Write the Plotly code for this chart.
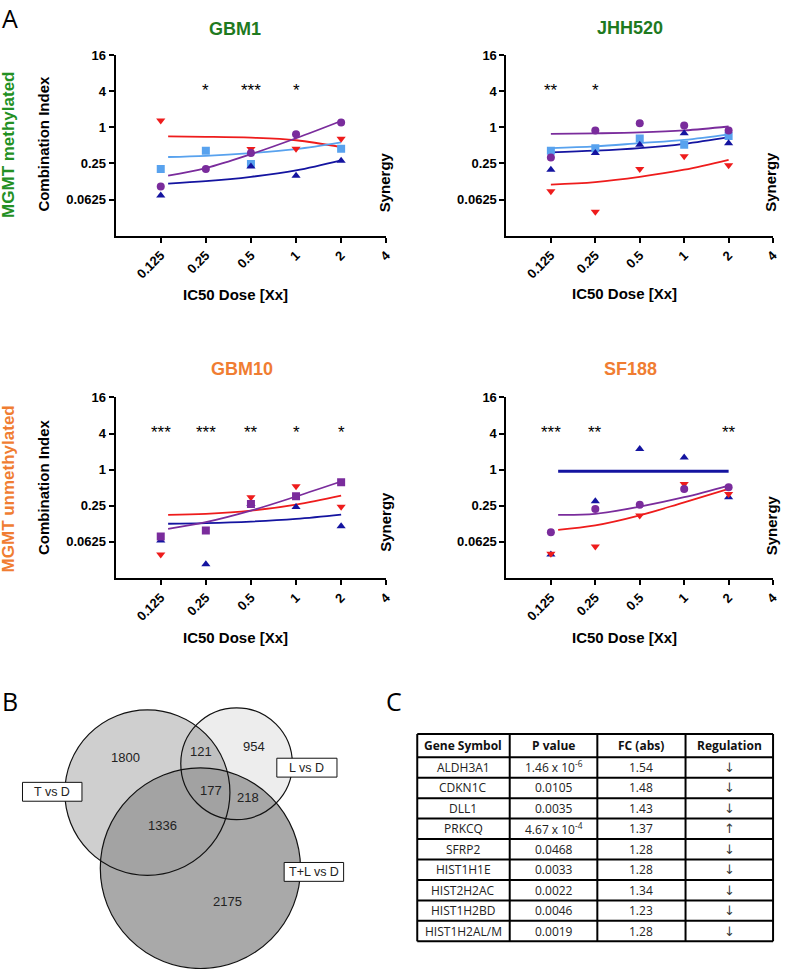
import math
import plotly.graph_objects as go

W, H = 786, 969
SANS = "Liberation Sans, Arial, sans-serif"
TABLE_FONT = "Open Sans, sans-serif"

# ---------------- Data ----------------
DOSES = [0.125, 0.25, 0.5, 1, 2]
FIT_X = [0.14, 0.25, 0.5, 1, 2]
FIT_X_JHH = [0.125, 0.25, 0.5, 1, 2]
X_TICKS = [0.125, 0.25, 0.5, 1, 2, 4]
X_TICKTEXT = ["0.125", "0.25", "0.5", "1", "2", "4"]
Y_TICKS = [0.0625, 0.25, 1, 4, 16]
Y_TICKTEXT = ["0.0625", "0.25", "1", "4", "16"]

# GBM1
gbm1_red = [1.29, None, 0.432, 0.438, 0.642]
gbm1_lightblue = [0.202, 0.406, 0.243, None, 0.438]
gbm1_purple = [0.103, 0.202, 0.371, 0.763, 1.197]
gbm1_navy = [0.0728, None, 0.222, 0.156, 0.277]
gbm1_red_fit = [0.702, 0.693, 0.669, 0.607, 0.467]
gbm1_lightblue_fit = [0.319, 0.334, 0.371, 0.432, 0.559]
gbm1_purple_fit = [0.156, 0.209, 0.356, 0.655, 1.27]
gbm1_navy_fit = [0.115, 0.126, 0.149, 0.191, 0.281]
gbm1_sig = ["", "*", "***", "*", ""]

# JHH520
jhh_purple = [0.314, 0.883, 1.165, 1.064, 0.883]
jhh_lightblue = [0.406, 0.448, 0.651, 0.511, 0.717]
jhh_navy = [0.196, 0.371, 0.511, 0.795, 0.543]
jhh_red = [0.086, 0.039, 0.202, 0.328, 0.232]
jhh_purple_fit = [0.774, 0.79, 0.818, 0.883, 1.028]
jhh_lightblue_fit = [0.448, 0.48, 0.543, 0.616, 0.763]
jhh_navy_fit = [0.382, 0.406, 0.448, 0.528, 0.683]
jhh_red_fit = [0.111, 0.122, 0.149, 0.196, 0.287]
jhh_sig = ["**", "*", "", "", ""]

# GBM10
gbm10_purple = [0.0766, 0.0968, 0.268, 0.361, 0.616]
gbm10_red = [0.0385, None, 0.346, 0.528, 0.241]
gbm10_navy = [0.0656, 0.0263, 0.268, 0.237, 0.114]
gbm10_red_fit = [0.176, 0.183, 0.207, 0.261, 0.369]
gbm10_purple_fit = [0.103, 0.133, 0.207, 0.356, 0.633]
gbm10_navy_fit = [0.125, 0.128, 0.136, 0.151, 0.178]
gbm10_sig = ["***", "***", "**", "*", "*"]

# SF188
sf_navy = [0.0385, 0.297, 2.20, 1.60, 0.346]
sf_purple = [0.0902, 0.221, 0.259, 0.476, 0.507]
sf_red = [0.0396, 0.0522, 0.172, 0.578, 0.392]
sf_navy_fit = [0.94, 0.94, 0.94, 0.94, 0.94]
sf_purple_fit = [0.176, 0.183, 0.241, 0.346, 0.543]
sf_red_fit = [0.0988, 0.117, 0.172, 0.285, 0.476]
sf_sig = ["***", "**", "", "", "**"]

# Venn (B)
venn_sets = ["T vs D", "L vs D", "T+L vs D"]
venn_region_labels = ["T only", "L only", "T+L only", "T&L", "T&T+L", "L&T+L", "all"]
venn_region_counts = [1800, 954, 2175, 121, 1336, 218, 177]

# Table (C)
tbl_header = ["Gene Symbol", "P value", "FC (abs)", "Regulation"]
tbl_genes = ["ALDH3A1", "CDKN1C", "DLL1", "PRKCQ", "SFRP2", "HIST1H1E",
             "HIST2H2AC", "HIST1H2BD", "HIST1H2AL/M"]
tbl_pvalues = ["1.46 x 10<sup>-6</sup>", "0.0105", "0.0035", "4.67 x 10<sup>-4</sup>",
               "0.0468", "0.0033", "0.0022", "0.0046", "0.0019"]
tbl_fc = ["1.54", "1.48", "1.43", "1.37", "1.28", "1.28", "1.34", "1.23", "1.28"]
tbl_reg = ["↓", "↓", "↓", "↑", "↓", "↓", "↓", "↓", "↓"]

# ---------------- Styles / layout ----------------
RED = "#ee1c1c"
LBLUE = "#58a2ee"
PURPLE = "#7a2c9c"
NAVY = "#1414a0"
GREEN = "#1f7a1f"
GREEN2 = "#239023"
ORANGE = "#f07d32"

def px(x):
    return x / W

def py(y):
    return 1 - y / H

panels = [
    dict(title="GBM1", tcolor=GREEN, xd=(116.7, 389.7), yd=(48.3, 230.3),
         title_pos=(237, 22.5), xt_pos=(237.5, 290), yt_pos=(43, 138), syn_pos=(388, 177),
         sig=gbm1_sig, fitx=FIT_X,
         series=[(gbm1_red_fit, gbm1_red, RED, "triangle-down"),
                 (gbm1_lightblue_fit, gbm1_lightblue, LBLUE, "square"),
                 (gbm1_purple_fit, gbm1_purple, PURPLE, "circle"),
                 (gbm1_navy_fit, gbm1_navy, NAVY, "triangle-up")]),
    dict(title="JHH520", tcolor=GREEN, xd=(511, 780), yd=(48.3, 230.3),
         title_pos=(636, 21), xt_pos=(630, 289), yt_pos=None, syn_pos=(778, 176),
         sig=jhh_sig, fitx=FIT_X_JHH,
         series=[(jhh_red_fit, jhh_red, RED, "triangle-down"),
                 (jhh_lightblue_fit, jhh_lightblue, LBLUE, "square"),
                 (jhh_navy_fit, jhh_navy, NAVY, "triangle-up"),
                 (jhh_purple_fit, jhh_purple, PURPLE, "circle")]),
    dict(title="GBM10", tcolor=ORANGE, xd=(116.7, 389.7), yd=(393.3, 575),
         title_pos=(244, 365), xt_pos=(237.5, 635), yt_pos=(44, 484), syn_pos=(389, 519),
         sig=gbm10_sig, fitx=FIT_X,
         series=[(gbm10_red_fit, gbm10_red, RED, "triangle-down"),
                 (gbm10_navy_fit, gbm10_navy, NAVY, "triangle-up"),
                 (gbm10_purple_fit, gbm10_purple, PURPLE, "square")]),
    dict(title="SF188", tcolor=ORANGE, xd=(511, 780), yd=(393.3, 575),
         title_pos=(636, 365), xt_pos=(630, 635), yt_pos=None, syn_pos=(778, 522),
         sig=sf_sig, fitx=FIT_X,
         series=[(sf_navy_fit, sf_navy, NAVY, "triangle-up"),
                 (sf_red_fit, sf_red, RED, "triangle-down"),
                 (sf_purple_fit, sf_purple, PURPLE, "circle")]),
]

fig = go.Figure()
annotations = []
shapes = []
layout_axes = {}

def ann(text, x, y, size, color="black", bold=True, angle=0, family=SANS, xanchor="center"):
    return dict(text=text, x=px(x), y=py(y), xref="paper", yref="paper", showarrow=False,
                xanchor=xanchor, yanchor="middle", textangle=angle,
                font=dict(size=size, color=color, family=family,
                          weight="bold" if bold else "normal"))

for i, p in enumerate(panels, start=1):
    xa = "x" if i == 1 else f"x{i}"
    ya = "y" if i == 1 else f"y{i}"
    xkey = "xaxis" if i == 1 else f"xaxis{i}"
    ykey = "yaxis" if i == 1 else f"yaxis{i}"
    layout_axes[xkey] = dict(
        domain=[px(p["xd"][0]), px(p["xd"][1])], anchor=ya, type="log",
        range=[math.log10(0.0625), math.log10(4)],
        tickvals=X_TICKS, ticktext=X_TICKTEXT, tickangle=-45,
        ticks="outside", ticklen=5, tickwidth=2, tickcolor="black",
        showline=True, linewidth=2, linecolor="black", showgrid=False, zeroline=False,
        tickfont=dict(family=SANS, size=13, color="black", weight="bold"))
    layout_axes[ykey] = dict(
        domain=[py(p["yd"][1]), py(p["yd"][0])], anchor=xa, type="log",
        range=[math.log10(0.015625), math.log10(16)],
        tickvals=Y_TICKS, ticktext=Y_TICKTEXT,
        ticks="outside", ticklen=5, tickwidth=2, tickcolor="black",
        showline=True, linewidth=2, linecolor="black", showgrid=False, zeroline=False,
        tickfont=dict(family=SANS, size=13, color="black", weight="bold"))
    # reference line at CI = 1
    shapes.append(dict(type="line", xref=f"{xa} domain", yref=ya, x0=0, x1=1, y0=0, y1=0,
                       line=dict(color="black", width=2), layer="below"))
    # fits
    for fit, pts, color, sym in p["series"]:
        fig.add_trace(go.Scatter(x=p["fitx"], y=fit, mode="lines", xaxis=xa, yaxis=ya,
                                 line=dict(color=color, width=3 if fit is sf_navy_fit else 1.8,
                                           shape="spline"),
                                 showlegend=False, hoverinfo="skip"))
    for fit, pts, color, sym in p["series"]:
        fig.add_trace(go.Scatter(x=DOSES, y=pts, mode="markers", xaxis=xa, yaxis=ya,
                                 marker=dict(color=color, symbol=sym, size=8, line=dict(width=0)),
                                 showlegend=False))
    # significance stars
    for d, s in zip(DOSES, p["sig"]):
        if s:
            annotations.append(dict(text=s, x=math.log10(d), y=math.log10(4), xref=xa, yref=ya,
                                    showarrow=False, xanchor="center", yanchor="middle", yshift=1,
                                    font=dict(family=SANS, size=17, color="black")))
    annotations.append(ann(p["title"], *p["title_pos"], 18, color=p["tcolor"]))
    annotations.append(ann("IC50 Dose [Xx]", *p["xt_pos"], 15))
    if p["yt_pos"]:
        annotations.append(ann("Combination Index", *p["yt_pos"], 15, angle=-90))
    annotations.append(ann("Synergy", *p["syn_pos"], 15, angle=-90))

annotations.append(ann("MGMT methylated", 9, 139, 17, color=GREEN2, angle=-90))
annotations.append(ann("MGMT unmethylated", 9, 485, 17, color=ORANGE, angle=-90))

# panel letters
annotations.append(ann("A", 10, 11, 25, bold=False, family="Open Sans, sans-serif"))
annotations.append(ann("B", 10, 699, 25, bold=False, family="Open Sans, sans-serif"))
annotations.append(ann("C", 398, 699, 25, bold=False, family="Open Sans, sans-serif"))

# ---------------- Venn ----------------
venn_circles = [(148.7, 791.3, 83.3), (238.7, 762.2, 56.3), (202.2, 867.5, 101.0)]
venn_fills = ["rgba(0,0,0,0.19)", "rgba(0,0,0,0.07)", "rgba(157,157,157,0.88)"]
for (cx, cy, r), fill in zip(venn_circles, venn_fills):
    shapes.append(dict(type="circle", xref="paper", yref="paper",
                       x0=px(cx - r), x1=px(cx + r), y0=py(cy + r), y1=py(cy - r),
                       fillcolor=fill, line=dict(width=0)))
for (cx, cy, r) in venn_circles:
    shapes.append(dict(type="circle", xref="paper", yref="paper",
                       x0=px(cx - r), x1=px(cx + r), y0=py(cy + r), y1=py(cy - r),
                       fillcolor="rgba(0,0,0,0)", line=dict(color="#111111", width=1.2)))
venn_count_pos = [(126.7, 755.7), (256, 745), (230, 900.7), (203.3, 750),
                  (164.3, 824.3), (250.7, 796), (213.3, 789.3)]
for (x, y), c in zip(venn_count_pos, venn_region_counts):
    annotations.append(ann(str(c), x, y, 13, color="#222222", bold=False))
venn_box = [(22.7, 781, 82.7, 800), (279.3, 756.7, 340, 775.7), (286.7, 861.7, 346.7, 880.7)]
for (x0, y0, x1, y1), name in zip(venn_box, venn_sets):
    shapes.append(dict(type="rect", xref="paper", yref="paper",
                       x0=px(x0), x1=px(x1), y0=py(y1), y1=py(y0),
                       fillcolor="white", line=dict(color="#111111", width=1)))
    annotations.append(ann(name, (x0 + x1) / 2, (y0 + y1) / 2 + 0.5, 12.5, color="#222222", bold=False))

# ---------------- Table (drawn as a grid) ----------------
col_edges = [421, 514.3, 602.7, 691.7, 780]
tbl_top, hdr_h, row_h = 732.3, 23.4, 20.6
row_edges = [tbl_top, tbl_top + hdr_h] + [tbl_top + hdr_h + row_h * (k + 1) for k in range(len(tbl_genes))]
for yv in row_edges:
    shapes.append(dict(type="line", xref="paper", yref="paper", x0=px(col_edges[0]), x1=px(col_edges[-1]),
                       y0=py(yv), y1=py(yv), line=dict(color="black", width=2)))
for xv in col_edges:
    shapes.append(dict(type="line", xref="paper", yref="paper", x0=px(xv), x1=px(xv),
                       y0=py(row_edges[0]), y1=py(row_edges[-1]), line=dict(color="black", width=2)))
col_centers = [(col_edges[k] + col_edges[k + 1]) / 2 for k in range(4)]
for k, h in enumerate(tbl_header):
    annotations.append(ann(h, col_centers[k], (row_edges[0] + row_edges[1]) / 2, 12,
                           color="#111111", bold=True, family=TABLE_FONT))
columns = [tbl_genes, tbl_pvalues, tbl_fc, tbl_reg]
for r in range(len(tbl_genes)):
    yc = (row_edges[r + 1] + row_edges[r + 2]) / 2
    for k, col in enumerate(columns):
        is_arrow = k == 3
        annotations.append(ann(col[r], col_centers[k], yc, 13 if is_arrow else 12,
                               color="#3a3a3a" if is_arrow else "#222222", bold=False,
                               family="DejaVu Sans, sans-serif" if is_arrow else TABLE_FONT))

fig.update_layout(width=W, height=H, margin=dict(l=0, r=0, t=0, b=0),
                  paper_bgcolor="white", plot_bgcolor="rgba(0,0,0,0)",
                  showlegend=False, annotations=annotations, shapes=shapes, **layout_axes)

fig.write_html("out.html", config={"displayModeBar": False},
               post_script="document.body.style.margin='0';document.body.style.overflow='hidden';")
